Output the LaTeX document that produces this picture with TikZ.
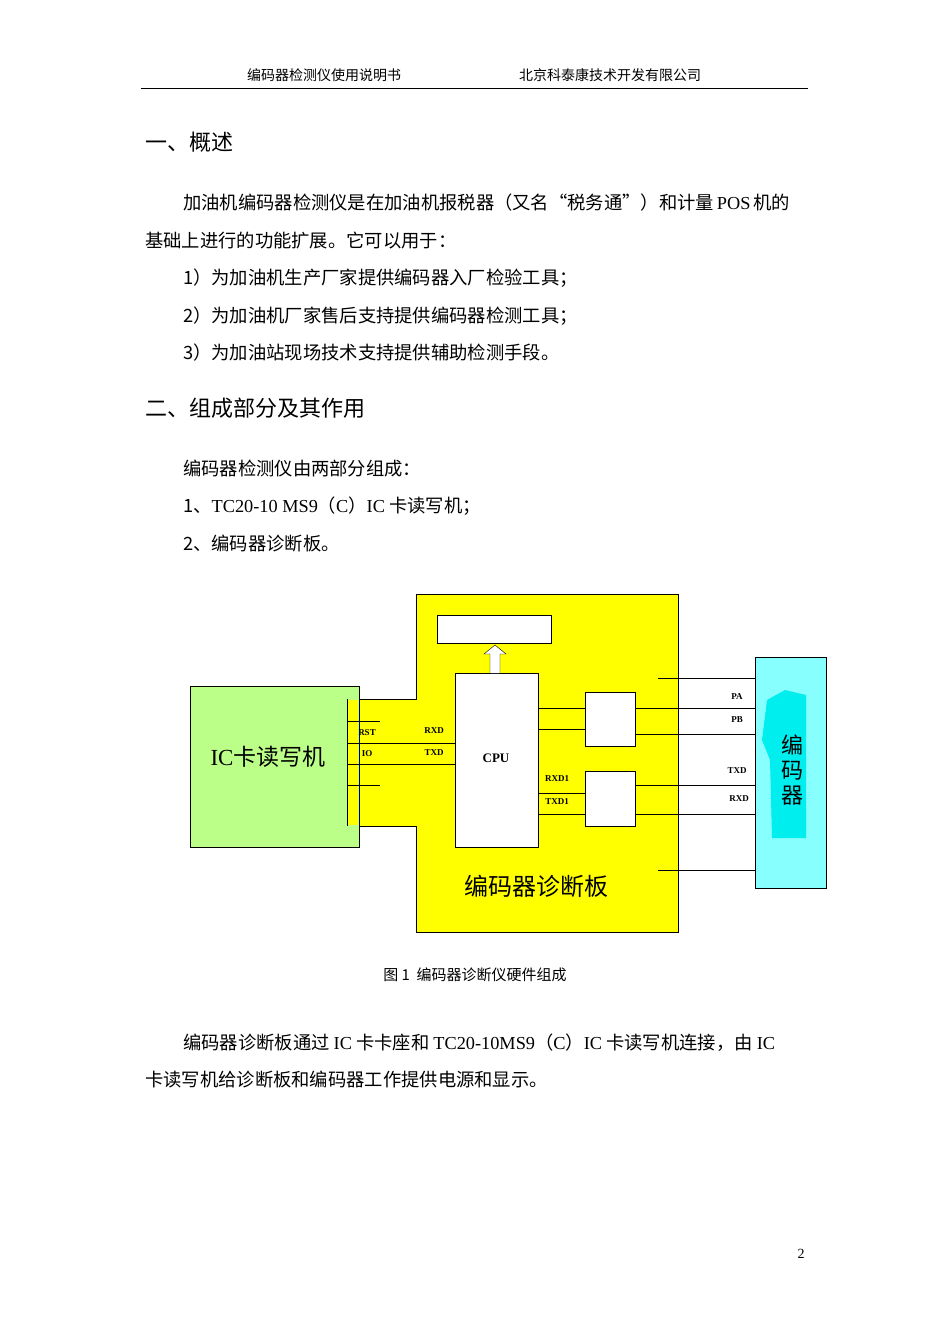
\documentclass[tikz,border=0pt]{standalone}
\usepackage{fontspec}
\setmainfont{Liberation Serif}
\newfontfamily\cjk{Noto Sans CJK SC}
\usetikzlibrary{arrows.meta}
\definecolor{ylw}{RGB}{255,255,0}
\definecolor{grn}{RGB}{187,255,136}
\definecolor{cyn}{RGB}{136,255,255}
\definecolor{cyd}{RGB}{0,238,238}
\begin{document}
\begin{tikzpicture}[x=1pt,y=-1pt,
  body/.style={anchor=base west,inner sep=0,font=\cjk\fontsize{18.3}{20}\selectfont},
  head/.style={anchor=base west,inner sep=0,font=\cjk\fontsize{22}{24}\selectfont},
  sig/.style={inner sep=0,font=\bfseries\fontsize{9}{10}\selectfont},
  wire/.style={line width=0.8pt}]
\useasboundingbox (0,0) rectangle (950,1343);
% header
\node[inner sep=0,font=\cjk\fontsize{14}{16}\selectfont] (h1) at (324,75) {编码器检测仪使用说明书};
\node[inner sep=0,font=\cjk\fontsize{14}{16}\selectfont] (h2) at (610,75) {北京科泰康技术开发有限公司};
\draw[line width=0.8pt] (141,88) -- (808,88);
\node[head] (s1) at (145,151) {一、概述};
\node[body] (p1) at (183,210) {加油机编码器检测仪是在加油机报税器（又名“税务通”）和计量\,{\rmfamily POS}\,机的};
\node[body] (p2) at (145,247) {基础上进行的功能扩展。它可以用于：};
\node[body] (p3) at (183,284) {1）为加油机生产厂家提供编码器入厂检验工具；};
\node[body] (p4) at (183,322) {2）为加油机厂家售后支持提供编码器检测工具；};
\node[body] (p5) at (183,359) {3）为加油站现场技术支持提供辅助检测手段。};
\node[head] (s2) at (145,416) {二、组成部分及其作用};
\node[body] (p6) at (183,475) {编码器检测仪由两部分组成：};
\node[body] (p7) at (183,512) {1、{\rmfamily TC20-10 MS9}（{\rmfamily C}）{\rmfamily IC} 卡读写机；};
\node[body] (p8) at (183,550) {2、编码器诊断板。};
% diagram
\draw[fill=ylw,line width=1pt] (416,594) -- (678,594) -- (678,932) -- (416,932) -- (416,826) -- (347,826) -- (347,699) -- (416,699) -- cycle;
\node[draw,fill=grn,minimum width=169,minimum height=161,anchor=north west,inner sep=0,line width=0.8pt] (ic) at (190,686) {};
\draw[fill=ylw,draw=none] (348,700) rectangle (358,825);
\draw[line width=0.8pt] (347,699) -- (347,826);
\node[font=\cjk\fontsize{23}{25}\selectfont,inner sep=0] (ict) at (268,757) {{\rmfamily IC}卡读写机};
\node[draw,fill=white,minimum width=114,minimum height=28,anchor=north west,inner sep=0] (disp) at (437,615) {};
\node[draw,fill=white,minimum width=83,minimum height=174,anchor=north west,inner sep=0] (cpu) at (455,673) {};
\node[font=\bfseries\fontsize{13}{14}\selectfont,inner sep=0] (cput) at (496,758) {CPU};
\draw[fill=white] (490,673) -- (490,654) -- (484,654) -- (495,645) -- (506,654) -- (500,654) -- (500,673);
\node[draw,fill=white,minimum width=50,minimum height=54,anchor=north west,inner sep=0] (b1) at (585,692) {};
\node[draw,fill=white,minimum width=50,minimum height=55,anchor=north west,inner sep=0] (b2) at (585,771) {};
\node[draw,fill=cyn,minimum width=71,minimum height=231,anchor=north west,inner sep=0,line width=0.8pt] (enc) at (755,657) {};
\fill[cyd] (767,700) -- (785,690) -- (806,695) -- (806,838) -- (772,838) -- (770,760) -- (762,740) -- cycle;
\node[font=\cjk\fontsize{22}{25}\selectfont,align=center,inner sep=0] (enct) at (792,770) {编\\码\\器};
\node[font=\cjk\fontsize{24}{26}\selectfont,inner sep=0] (bt) at (536,886) {编码器诊断板};
% wires
\coordinate (l1) at (380,721); \coordinate (l4) at (380,785);
\draw[wire] (347,721) -- (l1);
\draw[wire] (347,785) -- (l4);
\draw[wire] (347,743) -- (cpu.west |- 0,743);
\draw[wire] (347,764) -- (cpu.west |- 0,764);
\draw[wire] (cpu.east |- 0,708) -- (b1.west |- 0,708);
\draw[wire] (cpu.east |- 0,729) -- (b1.west |- 0,729);
\draw[wire] (b1.east |- 0,708) -- (enc.west |- 0,708);
\draw[wire] (b1.east |- 0,734) -- (enc.west |- 0,734);
\draw[wire] (cpu.east |- 0,793) -- (b2.west |- 0,793);
\draw[wire] (cpu.east |- 0,814) -- (b2.west |- 0,814);
\draw[wire] (b2.east |- 0,785) -- (enc.west |- 0,785);
\draw[wire] (b2.east |- 0,814) -- (enc.west |- 0,814);
\coordinate (t1) at (658,678); \coordinate (t2) at (658,870);
\draw[wire] (t1) -- (enc.west |- t1);
\draw[wire] (t2) -- (enc.west |- t2);
\node[sig] (pa) at (737,697) {PA};
\node[sig] (pb) at (737,720) {PB};
\node[sig] (etx) at (737,771) {TXD};
\node[sig] (erx) at (739,799) {RXD};
\node[sig] (rst) at (367,733) {RST};
\node[sig] (io) at (367,754) {IO};
\node[sig] (crx) at (434,731) {RXD};
\node[sig] (ctx) at (434,753) {TXD};
\node[sig] (rx1) at (557,779) {RXD1};
\node[sig] (tx1) at (557,802) {TXD1};
% caption and text
\node[inner sep=0,font=\cjk\fontsize{15}{17}\selectfont] (cap) at (475,975) {图 1\ \ 编码器诊断仪硬件组成};
\node[body] (p9) at (183,1049) {编码器诊断板通过 {\rmfamily IC} 卡卡座和 {\rmfamily TC20-10MS9}（{\rmfamily C}）{\rmfamily IC} 卡读写机连接，由 {\rmfamily IC}};
\node[body] (p10) at (145,1086) {卡读写机给诊断板和编码器工作提供电源和显示。};
\node[inner sep=0,font=\fontsize{14}{15}\selectfont] (pg) at (801,1254) {2};
\end{tikzpicture}
\end{document}
